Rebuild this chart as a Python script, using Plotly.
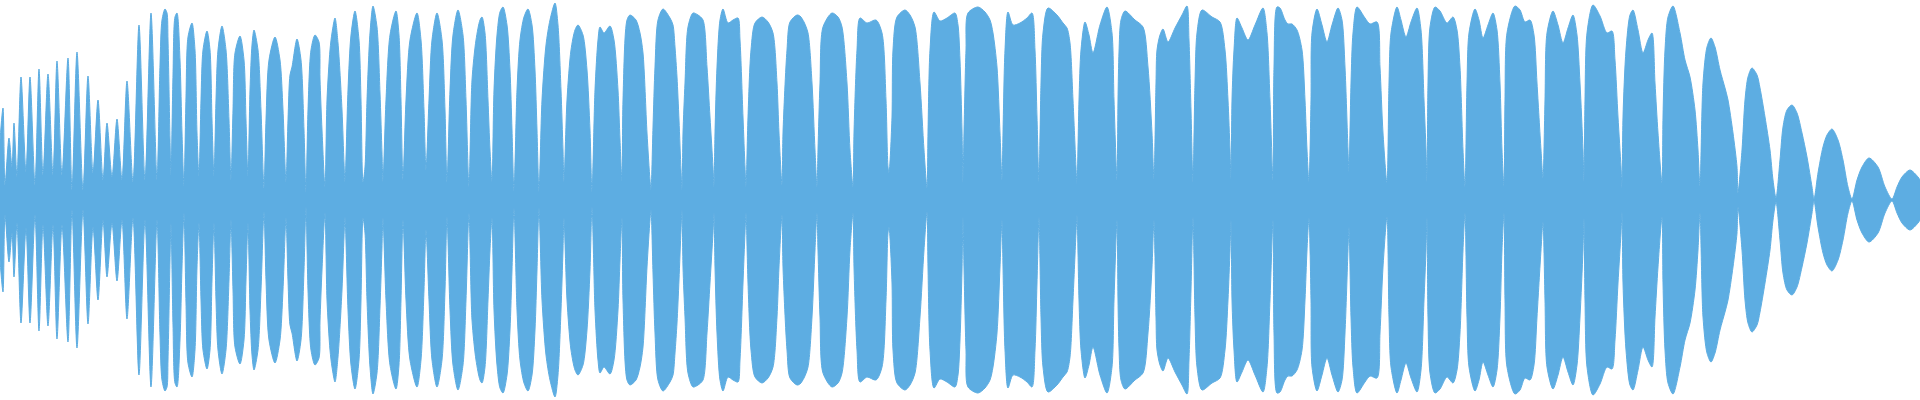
import plotly.graph_objects as go

# Horizontal sample position (px along the track) and envelope amplitude (0..200, mirrored around the centre)
sample_x = [
    0, 3, 5, 9, 12, 14, 17, 21, 26, 30, 35, 39, 43, 48, 53, 57, 62, 68, 72, 77, 83, 88, 93, 98,
    103, 107, 112, 117, 122, 127, 133, 139, 145, 151, 157,
    160, 162, 165, 167, 168, 170, 171,
    173, 175, 177, 180, 182, 184,
    186, 188, 192, 195, 197, 199,
    201, 203, 207, 210, 212, 214,
    216, 218, 222, 226, 229, 231,
    233, 235, 240, 244, 246, 248,
    250, 252, 254, 258, 261, 264,
    266, 269, 275, 280, 283, 286,
    288, 290, 292, 297, 301, 304, 306,
    308, 311, 315, 319, 320, 322, 325,
    327, 330, 332, 335, 338, 342, 344, 345,
    348, 351, 355, 359, 361, 363,
    365, 367, 370, 373, 377, 380, 382, 383,
    386, 390, 396, 399, 401, 403,
    406, 410, 417, 421, 424, 426,
    429, 432, 437, 442, 445, 447,
    450, 453, 458, 463, 466, 469,
    472, 476, 480, 482, 485, 488, 490, 492,
    494, 497, 500, 503, 507, 510, 512, 514,
    517, 520, 524, 528, 532, 535, 537, 539,
    542, 546, 550, 555, 558, 561, 563, 564,
    567, 571, 575, 578, 583, 587, 590, 592,
    595, 598, 600, 604, 610, 614, 618, 620, 622,
    623, 627, 630, 636, 640, 643, 647, 650, 651,
    653, 655, 658, 663, 670, 673, 675, 677, 679, 681, 682,
    683, 685, 688, 693, 698, 703, 707, 710, 713, 714,
    715, 717, 720, 723, 728, 733, 738, 740, 743, 745, 746,
    748, 751, 755, 762, 768, 773, 777, 779, 782,
    783, 787, 790, 797, 800, 804, 808, 812, 815, 817,
    818, 820, 823, 832, 838, 842, 847, 850, 853,
    854, 857, 860, 867, 876, 882, 886, 888, 889,
    892, 893, 897, 905, 910, 915, 920, 924, 927,
    928, 930, 934, 940, 947, 955, 958, 960, 962, 963,
    964, 966, 968, 978, 985, 990, 993, 997, 1000, 1002,
    1003, 1005, 1008, 1013, 1020, 1027, 1032, 1035, 1037, 1039,
    1041, 1043, 1048, 1057, 1063, 1067, 1070, 1073, 1076, 1077,
    1079, 1081, 1085, 1089, 1093, 1100, 1107, 1112, 1114, 1117,
    1118, 1119, 1121, 1125, 1135, 1143, 1148, 1152, 1154,
    1156, 1157, 1160, 1163, 1168, 1175, 1182, 1187, 1189, 1191, 1193,
    1195, 1197, 1202, 1212, 1220, 1225, 1228, 1230, 1231,
    1232, 1234, 1237, 1242, 1248, 1255, 1263, 1267, 1270, 1273,
    1274, 1277, 1280, 1285, 1288, 1292, 1297, 1302, 1305, 1307, 1309,
    1311, 1312, 1317, 1322, 1327, 1332, 1338, 1342, 1345, 1348, 1349,
    1351, 1353, 1357, 1365, 1370, 1377, 1380, 1383, 1387,
    1389, 1391, 1397, 1401, 1406, 1411, 1417, 1421, 1424, 1426, 1427,
    1428, 1430, 1435, 1440, 1447, 1453, 1457, 1460, 1463, 1465,
    1467, 1469, 1475, 1479, 1483, 1488, 1493, 1497, 1500, 1502, 1504,
    1505, 1507, 1515, 1520, 1525, 1530, 1534, 1537, 1541, 1543,
    1545, 1547, 1553, 1558, 1563, 1568, 1573, 1577, 1580, 1583, 1584,
    1585, 1587, 1593, 1600, 1607, 1612, 1615, 1618, 1621, 1622,
    1623, 1626, 1630, 1633, 1638, 1643, 1648, 1652, 1655, 1658, 1662,
    1663, 1665, 1668, 1673, 1680, 1685, 1690, 1695, 1698, 1700,
    1703, 1707, 1711, 1715, 1720, 1725, 1728, 1733, 1737, 1738,
    1742, 1745, 1748, 1752, 1757, 1760, 1765, 1770, 1773, 1776,
    1780, 1783, 1787, 1792, 1797, 1802, 1807, 1812, 1814,
    1818, 1823, 1827, 1832, 1838, 1843, 1848, 1852,
    1857, 1862, 1869, 1878, 1885, 1892,
    1897, 1902, 1910, 1918, 1920,
]

envelope = [
    60, 92, 15, 62, 33, 77, 23, 123, 28, 123, 15, 131, 25, 126, 25, 139, 25, 142, 10, 148, 10, 124, 27, 100,
    20, 77, 23, 81, 20, 119, 18, 175, 20, 187, 20,
    135, 180, 191, 187, 160, 60, 23,
    125, 183, 187, 140, 67, 13,
    103, 163, 177, 150, 67, 23,
    100, 150, 169, 150, 80, 23,
    100, 150, 174, 150, 80, 20,
    90, 147, 164, 140, 80, 23,
    110, 155, 170, 150, 90, 12,
    80, 140, 163, 140, 90, 18,
    80, 125, 133, 161, 140, 70, 7,
    90, 150, 165, 158, 121, 70, 13,
    100, 150, 167, 182, 157, 90, 37, 17,
    110, 165, 189, 160, 100, 18,
    33, 100, 167, 194, 173, 107, 47, 18,
    100, 165, 189, 165, 100, 20,
    100, 160, 187, 160, 90, 30,
    100, 160, 187, 160, 90, 17,
    110, 165, 190, 165, 100, 13,
    120, 160, 180, 183, 167, 100, 50, 18,
    110, 165, 188, 193, 175, 130, 70, 8,
    110, 160, 183, 191, 175, 130, 70, 8,
    100, 155, 180, 197, 175, 110, 50, 18,
    100, 150, 170, 175, 165, 130, 70, 7,
    110, 160, 173, 167, 174, 160, 110, 60, 18,
    100, 180, 185, 180, 167, 147, 67, 20, 10,
    73, 133, 180, 191, 182, 175, 153, 123, 80, 30, 10,
    67, 117, 173, 187, 185, 180, 133, 83, 33, 13,
    67, 133, 180, 191, 177, 180, 182, 160, 83, 33, 13,
    83, 150, 177, 183, 178, 167, 117, 67, 15,
    67, 150, 178, 185, 184, 178, 167, 117, 50, 13,
    50, 117, 173, 187, 183, 173, 117, 50, 13,
    67, 150, 182, 177, 180, 167, 100, 33, 27,
    83, 150, 183, 190, 185, 173, 117, 50, 12,
    67, 150, 188, 179, 182, 187, 175, 140, 70, 17,
    67, 150, 187, 193, 188, 180, 167, 133, 67, 20,
    67, 150, 188, 175, 177, 182, 187, 150, 83, 17,
    117, 167, 192, 185, 177, 172, 157, 100, 33, 15,
    100, 150, 178, 165, 147, 175, 193, 167, 100, 20,
    100, 148, 180, 189, 180, 173, 133, 67, 20,
    117, 150, 165, 171, 158, 172, 185, 194, 160, 90, 17,
    117, 167, 190, 183, 178, 150, 100, 50, 20,
    100, 150, 182, 172, 160, 175, 192, 167, 100, 20,
    133, 193, 192, 180, 176, 176, 170, 150, 100, 50, 18,
    100, 167, 191, 175, 158, 175, 192, 180, 133, 50, 27,
    117, 167, 193, 182, 176, 178, 133, 67, 17,
    117, 167, 193, 180, 163, 178, 192, 170, 100, 50, 17,
    117, 173, 193, 189, 177, 183, 170, 133, 50, 13,
    117, 167, 191, 180, 162, 175, 187, 170, 117, 50, 13,
    100, 167, 194, 190, 178, 180, 165, 117, 50, 22,
    100, 167, 189, 175, 157, 172, 185, 165, 117, 50, 18,
    100, 167, 195, 184, 167, 169, 140, 83, 33, 12,
    83, 150, 185, 190, 170, 147, 160, 167, 117, 67, 17,
    83, 150, 183, 194, 167, 140, 123, 90, 50, 13,
    117, 153, 162, 153, 130, 112, 100, 67, 33, 7,
    50, 100, 123, 132, 125, 112, 83, 50, 20, 2,
    40, 73, 90, 95, 87, 67, 43, 13, 1,
    27, 53, 65, 71, 60, 40, 13, 1,
    20, 33, 42, 33, 13, 1,
    13, 23, 30, 23, 20,
]

WAVE_COLOR = "#5DADE2"

upper = envelope
lower = [-v for v in envelope]

fig = go.Figure()
fig.add_trace(
    go.Scatter(
        x=sample_x,
        y=lower,
        mode="lines",
        line=dict(color=WAVE_COLOR, width=1, shape="spline", smoothing=0.8),
        hoverinfo="skip",
    )
)
fig.add_trace(
    go.Scatter(
        x=sample_x,
        y=upper,
        mode="lines",
        fill="tonexty",
        fillcolor=WAVE_COLOR,
        line=dict(color=WAVE_COLOR, width=1, shape="spline", smoothing=0.8),
        hoverinfo="skip",
    )
)

fig.update_layout(
    width=1920,
    height=400,
    margin=dict(l=0, r=0, t=0, b=0),
    paper_bgcolor="white",
    plot_bgcolor="white",
    showlegend=False,
    xaxis=dict(visible=False, range=[0, 1920], fixedrange=True),
    yaxis=dict(visible=False, range=[-200, 200], fixedrange=True),
)

fig.write_html(
    "out.html",
    config={"displayModeBar": False},
    post_script="document.body.style.margin='0';document.body.style.overflow='hidden';",
)
